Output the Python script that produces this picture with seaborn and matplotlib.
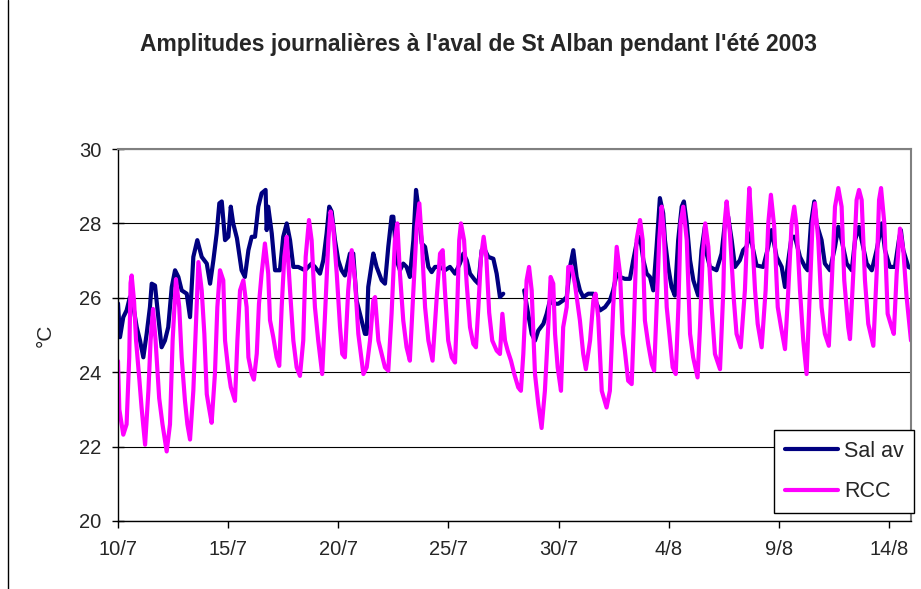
import matplotlib
matplotlib.use("Agg")
import matplotlib.pyplot as plt
import pandas as pd
import seaborn as sns
from matplotlib.lines import Line2D

# time axis: days since 10/7/2003 00:00, temperatures in °C
rcc_day = [0.00, 0.06, 0.24, 0.39, 0.51, 0.57, 0.62, 0.73, 0.82, 0.97, 1.07, 1.23, 1.38, 1.48, 1.59,
           1.70, 1.87, 2.02, 2.21, 2.36, 2.48, 2.63, 2.78, 2.89, 3.04, 3.15, 3.27, 3.42, 3.54, 3.65,
           3.80, 3.92, 4.03, 4.13, 4.25, 4.40, 4.51, 4.63, 4.78, 4.86, 5.01, 5.12, 5.31, 5.42, 5.54,
           5.69, 5.84, 5.92, 6.07, 6.17, 6.30, 6.40, 6.52, 6.67, 6.82, 6.90, 7.05, 7.20, 7.32, 7.43,
           7.55, 7.66, 7.81, 7.96, 8.11, 8.26, 8.41, 8.52, 8.67, 8.79, 8.94, 9.09, 9.27, 9.40, 9.55,
           9.65, 9.77, 9.93, 10.08, 10.18, 10.30, 10.45, 10.61, 10.76, 10.91, 11.14, 11.29, 11.44,
           11.59, 11.67, 11.82, 11.97, 12.12, 12.27, 12.42, 12.57, 12.68, 12.80, 12.95, 13.10, 13.25,
           13.41, 13.56, 13.68, 13.79, 13.94, 14.09, 14.28, 14.47, 14.62, 14.74, 14.84, 14.99, 15.15,
           15.30, 15.40, 15.49, 15.57, 15.71, 15.83, 15.98, 16.13, 16.25, 16.36, 16.48, 16.60, 16.72,
           16.85, 16.99, 17.19, 17.34, 17.45, 17.57, 17.69, 17.84, 17.99, 18.17, 18.29, 18.40, 18.55,
           18.66, 18.78, 18.93, 19.08, 19.23, 19.38, 19.53, 19.64, 19.76, 19.84, 19.96, 20.11, 20.21,
           20.37, 20.44, 20.59, 20.74, 20.97, 21.12, 21.24, 21.43, 21.58, 21.68, 21.80, 21.96, 22.18,
           22.33, 22.48, 22.64, 22.79, 22.91, 23.01, 23.16, 23.32, 23.42, 23.54, 23.70, 23.82, 23.92,
           24.07, 24.23, 24.34, 24.45, 24.57, 24.68, 24.78, 24.91, 25.06, 25.18, 25.32, 25.44, 25.54,
           25.66, 25.82, 25.97, 26.11, 26.31, 26.42, 26.54, 26.66, 26.80, 26.95, 27.10, 27.33, 27.48,
           27.55, 27.63, 27.78, 27.96, 28.08, 28.27, 28.46, 28.58, 28.66, 28.76, 28.92, 29.04, 29.22,
           29.40, 29.52, 29.64, 29.79, 29.95, 30.10, 30.28, 30.43, 30.58, 30.70, 30.81, 30.96, 31.11,
           31.26, 31.41, 31.53, 31.64, 31.79, 31.94, 32.09, 32.27, 32.42, 32.55, 32.70, 32.85, 32.97,
           33.15, 33.23, 33.38, 33.53, 33.64, 33.76, 33.91, 34.06, 34.29, 34.44, 34.55, 34.64, 34.79,
           34.94, 35.12, 35.22, 35.35, 35.50, 35.65, 35.80, 36.00]
rcc_temp = [24.3, 23.0, 22.32, 22.6, 24.4, 26.4, 26.6, 25.9, 24.85, 23.8, 23.05, 22.05, 23.5, 24.85, 25.7,
            24.9, 23.3, 22.6, 21.87, 22.6, 24.85, 26.5, 25.75, 24.4, 23.23, 22.6, 22.19, 23.5, 25.3, 26.96,
            26.2, 25.03, 23.41, 23.05, 22.64, 23.95, 25.75, 26.74, 26.47, 24.85, 24.04, 23.6, 23.23, 24.85, 26.2,
            26.47, 25.75, 24.4, 23.95, 23.8, 24.5, 25.84, 26.65, 27.46, 26.65, 25.4, 24.94, 24.4, 24.17, 25.75,
            27.1, 27.64, 26.2, 24.85, 24.13, 23.9, 24.85, 27.1, 28.09, 27.55, 25.75, 24.85, 23.95, 25.57, 27.55,
            28.32, 27.91, 26.65, 25.21, 24.49, 24.4, 26.2, 27.28, 26.47, 25.03, 23.95, 24.13, 24.85,
            25.93, 26.02, 24.85, 24.49, 24.13, 24.04, 25.57, 27.55, 28.0, 26.65, 25.39, 24.67, 24.31,
            26.2, 27.91, 28.54, 27.55, 25.75, 24.85, 24.31, 26.02, 27.19, 27.28, 26.2, 24.85, 24.4,
            24.26, 25.75, 27.55, 28.0, 27.55, 26.38, 25.21, 24.76, 24.67, 25.75, 27.1, 27.64, 27.1,
            25.6, 24.85, 24.58, 24.49, 25.57, 24.85, 24.58, 24.31, 23.95, 23.59, 23.5, 24.49, 26.47,
            26.83, 26.2, 23.95, 23.14, 22.5, 23.5, 25.21, 26.56, 26.38, 25.03, 24.13, 23.5, 25.21,
            25.75, 26.83, 26.83, 26.38, 25.39, 24.49, 24.08, 24.85, 25.93, 26.11, 25.48, 23.5, 23.05,
            23.5, 25.75, 27.37, 26.65, 25.03, 24.58, 23.77, 23.68, 25.3, 27.55, 28.09, 27.55, 25.39,
            24.76, 24.22, 24.04, 25.75, 27.55, 28.45, 27.73, 25.75, 24.85, 24.13, 23.95, 25.75, 28.0,
            28.45, 27.55, 25.03, 24.4, 23.86, 25.21, 27.1, 28.0, 27.37, 25.75, 24.49, 24.08, 26.2,
            28.09, 28.59, 27.73, 25.93, 25.03, 24.67, 26.2, 28.0, 28.95, 28.0, 26.2, 25.3, 24.67,
            26.2, 28.0, 28.77, 27.91, 25.75, 25.21, 24.62, 26.2, 28.0, 28.45, 27.91, 26.2, 24.85,
            23.95, 26.2, 28.0, 28.54, 27.55, 25.75, 25.03, 24.71, 26.65, 28.45, 28.95, 28.45, 26.47,
            25.21, 24.89, 26.65, 28.63, 28.9, 28.63, 26.47, 25.3, 24.71, 26.65, 28.63, 28.95, 28.0,
            25.57, 25.21, 25.03, 26.65, 27.86, 27.28, 26.02, 24.85]

# "Sal av" has a hole in the record around 27-28/7, so two pieces
sal_day_1 = [0.00, 0.09, 0.24, 0.39, 0.54, 0.70, 0.85, 1.00, 1.15, 1.30, 1.45, 1.53, 1.68, 1.83, 1.98,
             2.13, 2.28, 2.44, 2.59, 2.74, 2.89, 3.12, 3.27, 3.42, 3.60, 3.80, 4.03, 4.18, 4.33, 4.48,
             4.60, 4.71, 4.86, 5.01, 5.12, 5.23, 5.40, 5.61, 5.76, 5.92, 6.07, 6.22, 6.37, 6.52, 6.70,
             6.75, 6.82, 6.98, 7.13, 7.35, 7.50, 7.66, 7.81, 7.96, 8.18, 8.49, 8.79, 8.94, 9.17, 9.32,
             9.47, 9.59, 9.70, 9.85, 10.00, 10.15, 10.30, 10.53, 10.68, 10.83, 11.06, 11.21, 11.29,
             11.36, 11.52, 11.59, 11.74, 11.97, 12.12, 12.27, 12.42, 12.50, 12.65, 12.80, 12.95, 13.10,
             13.25, 13.41, 13.53, 13.63, 13.79, 13.94, 14.09, 14.24, 14.39, 14.62, 14.84, 15.07, 15.30,
             15.52, 15.68, 15.83, 15.98, 16.21, 16.36, 16.51, 16.66, 16.81, 17.04, 17.19, 17.34, 17.49]
sal_temp_1 = [25.85, 24.94, 25.48, 25.66, 26.02, 25.75, 25.21, 24.85, 24.4, 25.03, 25.75, 26.38, 26.33, 25.48, 24.67,
              24.85, 25.21, 26.29, 26.74, 26.56, 26.2, 26.11, 25.48, 27.1, 27.55, 27.1, 26.92, 26.38, 27.01, 27.73,
              28.54, 28.59, 27.55, 27.64, 28.45, 28.0, 27.6, 26.74, 26.56, 27.28, 27.64, 27.64, 28.45, 28.81, 28.9,
              27.82, 28.45, 27.73, 26.74, 26.74, 27.64, 28.0, 27.55, 26.83, 26.83, 26.74, 26.92, 26.83, 26.65, 27.01,
              27.73, 28.45, 28.32, 27.55, 27.01, 26.74, 26.6, 27.19, 27.19, 25.93, 25.39, 25.03, 25.03,
              26.29, 26.92, 27.19, 26.83, 26.47, 26.38, 27.37, 28.18, 28.18, 27.01, 26.74, 26.92, 26.83,
              26.56, 27.55, 28.9, 28.45, 27.46, 27.37, 26.83, 26.69, 26.83, 26.83, 26.74, 26.83, 26.65,
              26.92, 27.19, 27.01, 26.65, 26.47, 26.38, 27.28, 27.28, 27.1, 27.05, 26.65, 26.02, 26.11]
sal_day_2 = [18.44, 18.62, 18.78, 18.93, 19.08, 19.31, 19.46, 19.61, 19.76, 19.99, 20.21, 20.37, 20.52, 20.67,
             20.82, 20.97, 21.12, 21.35, 21.58, 21.73, 21.88, 22.11, 22.33, 22.48, 22.64, 22.79, 23.01, 23.24,
             23.39, 23.54, 23.70, 23.85, 24.00, 24.15, 24.30, 24.45, 24.60, 24.75, 24.83, 24.98, 25.13, 25.28,
             25.43, 25.59, 25.69, 25.82, 25.97, 26.12, 26.34, 26.49, 26.64, 26.72, 26.87, 27.17, 27.40, 27.55,
             27.70, 27.86, 28.01, 28.23, 28.38, 28.53, 28.68, 28.84, 28.99, 29.29, 29.52, 29.67, 29.90, 30.13,
             30.28, 30.43, 30.58, 30.73, 30.96, 31.19, 31.31, 31.46, 31.61, 31.71, 31.94, 32.09, 32.32, 32.55,
             32.70, 32.85, 33.08, 33.31, 33.46, 33.64, 33.76, 33.99, 34.22, 34.44, 34.67, 34.82, 35.04, 35.27,
             35.45, 35.54, 35.65, 35.88, 36.00]
sal_temp_2 = [26.2, 25.57, 25.03, 24.85, 25.12, 25.3, 25.57, 25.93, 25.84, 25.84, 25.93, 26.02, 26.83, 27.28,
              26.56, 26.2, 26.02, 26.11, 26.11, 25.84, 25.66, 25.75, 25.93, 26.2, 26.65, 26.56, 26.51, 26.51,
              27.01, 27.46, 27.64, 27.01, 26.65, 26.56, 26.2, 27.37, 28.68, 28.27, 27.55, 26.83, 26.29, 26.06,
              27.55, 28.45, 28.59, 28.0, 27.01, 26.47, 26.06, 27.28, 27.91, 27.19, 26.83, 26.74, 27.19, 28.0,
              28.18, 27.55, 26.83, 27.01, 27.28, 27.37, 27.73, 27.28, 26.87, 26.83, 27.37, 27.82, 27.1, 26.83,
              26.29, 27.01, 27.64, 27.64, 27.1, 26.83, 26.74, 28.0, 28.59, 28.0, 27.55, 26.92, 26.74, 27.37,
              27.91, 27.55, 26.92, 26.74, 27.55, 27.91, 27.55, 26.92, 26.74, 27.28, 28.0, 27.28, 26.83, 26.83,
              27.55, 27.82, 27.28, 26.83, 26.8]

tick_days = [0, 5, 10, 15, 20, 25, 30, 35]
tick_labels = ["10/7", "15/7", "20/7", "25/7", "30/7", "4/8", "9/8", "14/8"]
y_ticks = [20, 22, 24, 26, 28, 30]

colors = {"Sal av": "#000080", "RCC": "#FF00FF"}

df = pd.concat([
    pd.DataFrame({"day": sal_day_1, "temp": sal_temp_1, "serie": "Sal av", "seg": "sal1"}),
    pd.DataFrame({"day": sal_day_2, "temp": sal_temp_2, "serie": "Sal av", "seg": "sal2"}),
    pd.DataFrame({"day": rcc_day, "temp": rcc_temp, "serie": "RCC", "seg": "rcc"}),
], ignore_index=True)

sns.set_theme(style="white")
plt.rcParams["font.family"] = ["Liberation Sans", "DejaVu Sans"]

W, H = 921, 589
fig = plt.figure(figsize=(W / 100, H / 100), dpi=100)
ax = fig.add_axes([118 / W, 1 - 521 / H, (911 - 118) / W, (521 - 149) / H])

sns.lineplot(data=df, x="day", y="temp", hue="serie", units="seg", estimator=None, sort=False,
             hue_order=["Sal av", "RCC"], palette=colors, linewidth=3.0, ax=ax, legend=False)
for line in ax.lines:
    line.set_solid_joinstyle("round")

ax.set_xlim(0, 36)
ax.set_ylim(20, 30)
ax.set_xticks(tick_days)
ax.set_xticklabels(tick_labels)
ax.set_yticks(y_ticks)
ax.set_xlabel("")
ax.set_ylabel("")
ax.yaxis.grid(True, color="black", linewidth=0.8)
ax.set_axisbelow(True)

for side in ["left", "bottom"]:
    ax.spines[side].set_color("black")
    ax.spines[side].set_linewidth(1.0)
for side in ["top", "right"]:
    ax.spines[side].set_color("#808080")
    ax.spines[side].set_linewidth(1.5)

ax.tick_params(axis="y", direction="inout", length=8, width=1, color="black",
               labelsize=14.5, pad=8, left=True)
ax.tick_params(axis="x", direction="out", length=5, width=1, color="black",
               labelsize=14.5, pad=9, bottom=True)

handles = [Line2D([], [], color=colors[k], linewidth=3.0) for k in ["Sal av", "RCC"]]
leg = ax.legend(handles, ["Sal av", "RCC"], loc="upper left", bbox_to_anchor=(0.827, 0.2446),
                borderaxespad=0, frameon=True, fancybox=False, framealpha=1, edgecolor="black",
                fontsize=15.5, handlelength=2.5, handletextpad=0.25, borderpad=0.5, labelspacing=0.9)
leg.get_frame().set_linewidth(1.0)

fig.text(478 / W, 1 - 45 / H, "Amplitudes journalières à l'aval de St Alban pendant l'été 2003",
         ha="center", va="center", fontsize=16.5, fontweight="bold")
fig.text(45 / W, 1 - 335 / H, "°C", rotation=90, ha="center", va="center", fontsize=15)

# left edge of the chart area frame
fig.add_artist(Line2D([7.5 / W, 7.5 / W], [0, 1], color="black", linewidth=1, transform=fig.transFigure))

fig.savefig("out.png", dpi=100)
